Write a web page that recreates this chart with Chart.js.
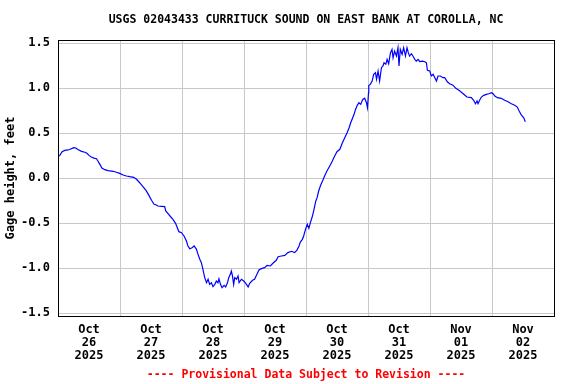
<!DOCTYPE html>
<html>
<head>
<meta charset="utf-8">
<title>USGS 02043433 Currituck Sound</title>
<script src="https://cdn.jsdelivr.net/npm/chart.js@4.4.1/dist/chart.umd.min.js"></script>
<style>
  html, body { margin: 0; padding: 0; background: #fff; }
  canvas { display: block; }
</style>
</head>
<body>
<canvas id="graphe" width="576" height="384"></canvas>
<script>
// Heures depuis le 26 oct 2025 00:00
var V_heures = [
  0.0, 0.7, 1.6, 2.6, 3.9, 4.5, 6.1, 6.9, 7.7, 9.1, 10.4, 11.2, 12.0, 12.9, 13.9, 14.9,
  15.5, 16.1, 17.0, 18.1, 19.4, 21.3, 22.6, 23.9, 25.2, 26.5, 27.8, 29.3, 30.4, 31.6, 32.9, 34.2,
  35.2, 36.2, 37.2, 38.1, 38.7, 40.0, 41.3, 41.7, 42.6, 43.6, 44.5, 45.5, 46.2, 46.8, 47.8, 48.8,
  49.7, 50.3, 51.0, 51.9, 52.7, 53.6, 54.2, 54.9, 55.5, 56.1, 56.8, 57.5, 58.1, 58.7, 59.4, 60.0,
  60.7, 61.3, 61.9, 62.3, 62.9, 63.5, 64.3, 64.9, 65.6, 66.1, 66.7, 67.1, 67.5, 68.0, 68.4, 69.1,
  69.7, 70.1, 71.0, 71.9, 72.7, 73.6, 74.2, 75.3, 76.1, 77.0, 77.8, 78.7, 80.0, 80.9, 82.2, 83.2,
  84.5, 85.2, 86.5, 87.8, 89.0, 90.4, 91.6, 92.5, 93.3, 93.8, 94.6, 95.1, 95.8, 96.5, 97.1, 97.7,
  98.5, 99.1, 99.8, 100.3, 100.9, 101.7, 102.4, 103.2, 104.1, 105.2, 106.2, 107.1, 108.0, 109.1, 110.1, 111.0,
  111.9, 112.7, 113.3, 114.0, 114.6, 115.2, 115.9, 116.5, 117.2, 117.8, 118.1, 118.7, 119.4, 119.8, 120.2, 120.3,
  120.9, 121.6, 122.2, 122.9, 123.3, 123.9, 124.5, 125.2, 125.8, 126.2, 126.9, 127.4, 128.0, 128.7, 129.3, 129.7,
  130.3, 131.0, 131.6, 132.0, 132.5, 133.2, 133.8, 134.5, 135.1, 135.6, 136.1, 136.8, 137.4, 138.1, 138.7, 139.4,
  140.0, 141.1, 142.0, 142.6, 143.0, 143.9, 144.5, 145.2, 146.5, 147.1, 148.0, 149.0, 149.7, 150.7, 151.6, 152.9,
  154.0, 155.2, 156.4, 157.4, 158.3, 160.0, 160.9, 161.6, 162.2, 162.6, 163.2, 163.9, 164.8, 165.8, 166.8, 167.8,
  168.4, 169.1, 170.1, 171.6, 172.9, 174.2, 175.5, 176.8, 177.8, 178.5, 179.4, 180.3, 180.9
];

// Hauteur d'eau (pieds)
var V_hauteur = [
  0.24, 0.255, 0.295, 0.31, 0.315, 0.32, 0.34, 0.337, 0.32, 0.30, 0.29, 0.278, 0.255, 0.237, 0.225, 0.218,
  0.19, 0.16, 0.115, 0.096, 0.085, 0.078, 0.067, 0.055, 0.037, 0.026, 0.018, 0.011, -0.011, -0.049, -0.093, -0.14,
  -0.19, -0.244, -0.289, -0.297, -0.308, -0.311, -0.315, -0.363, -0.393, -0.427, -0.456, -0.50, -0.549, -0.593, -0.604, -0.641,
  -0.697, -0.752, -0.782, -0.771, -0.752, -0.789, -0.845, -0.90, -0.938, -1.011, -1.104, -1.16, -1.122, -1.178, -1.16, -1.204,
  -1.178, -1.141, -1.16, -1.116, -1.178, -1.215, -1.189, -1.207, -1.16, -1.104, -1.067, -1.03, -1.078, -1.178, -1.104, -1.122,
  -1.085, -1.16, -1.122, -1.141, -1.167, -1.207, -1.167, -1.133, -1.122, -1.067, -1.019, -1.004, -0.993, -0.967, -0.974, -0.944,
  -0.911, -0.871, -0.863, -0.856, -0.826, -0.811, -0.826, -0.797, -0.752, -0.708, -0.678, -0.641, -0.567, -0.511, -0.556, -0.493,
  -0.419, -0.345, -0.252, -0.215, -0.141, -0.074, -0.03, 0.026, 0.081, 0.137, 0.192, 0.248, 0.296, 0.322, 0.396, 0.451,
  0.507, 0.562, 0.618, 0.667, 0.711, 0.767, 0.814, 0.84, 0.822, 0.867, 0.878, 0.89, 0.84, 0.784, 0.951, 1.03,
  1.044, 1.081, 1.156, 1.173, 1.10, 1.192, 1.081, 1.229, 1.248, 1.284, 1.267, 1.322, 1.273, 1.396, 1.433, 1.34,
  1.414, 1.359, 1.451, 1.248, 1.433, 1.378, 1.451, 1.359, 1.451, 1.396, 1.359, 1.385, 1.359, 1.322, 1.303, 1.322,
  1.296, 1.303, 1.296, 1.284, 1.20, 1.192, 1.137, 1.156, 1.081, 1.137, 1.137, 1.118, 1.118, 1.073, 1.051, 1.035,
  1.0, 0.978, 0.951, 0.926, 0.903, 0.896, 0.867, 0.829, 0.859, 0.829, 0.867, 0.903, 0.922, 0.933, 0.94, 0.951,
  0.94, 0.914, 0.896, 0.889, 0.867, 0.851, 0.829, 0.811, 0.792, 0.748, 0.703, 0.673, 0.629
];

// Etiquettes des jours (placées à midi)
var V_jours = [
  ['Oct', '26', '2025'], ['Oct', '27', '2025'], ['Oct', '28', '2025'], ['Oct', '29', '2025'],
  ['Oct', '30', '2025'], ['Oct', '31', '2025'], ['Nov', '01', '2025'], ['Nov', '02', '2025']
];

var V_ticks_y = [-1.5, -1.0, -0.5, 0.0, 0.5, 1.0, 1.5];

var S_titre = 'USGS 02043433 CURRITUCK SOUND ON EAST BANK AT COROLLA, NC';
var S_axe_y = 'Gage height, feet';
var S_pied = '---- Provisional Data Subject to Revision ----';

var S_police = '"DejaVu Sans Mono", "Liberation Mono", monospace';
var S_grille = '#c8c8c8';

Chart.defaults.color = '#000';
Chart.defaults.font.family = S_police;
Chart.defaults.font.size = 12;
Chart.defaults.font.weight = 'bold';

var V_points = [];
for (let I_index = 0; I_index < V_heures.length; I_index++) {
    V_points.push({x: V_heures[I_index], y: V_hauteur[I_index]});
}

// Cadre noir autour de la zone du graphe
var O_cadre = {
    id: 'cadre',
    afterDraw: function(chart){
        var a = chart.chartArea;
        var ctx = chart.ctx;
        ctx.save();
        ctx.strokeStyle = '#000';
        ctx.lineWidth = 1;
        ctx.strokeRect(Math.round(a.left) + 0.5, Math.round(a.top) + 0.5,
                       Math.round(a.right - a.left), Math.round(a.bottom - a.top));
        ctx.restore();
    }
};

var O_ctx = document.getElementById('graphe').getContext('2d');
var O_graphe = new Chart(O_ctx, {
    type: 'line',
    data: {
        datasets: [{
            label: S_axe_y,
            data: V_points,
            borderColor: '#0000ff',
            borderWidth: 1.2,
            pointRadius: 0,
            tension: 0,
            fill: false
        }]
    },
    options: {
        responsive: false,
        animation: false,
        layout: { padding: { left: 0, right: 22, top: 0, bottom: 0 } },
        plugins: {
            legend: { display: false },
            tooltip: { enabled: false },
            title: {
                display: true,
                text: S_titre,
                fullSize: false,
                color: '#000',
                font: { size: 11.5, weight: 'bold', lineHeight: '14px' },
                padding: { top: 13, bottom: 13 }
            },
            subtitle: {
                display: true,
                position: 'bottom',
                text: S_pied,
                fullSize: false,
                color: '#ff0000',
                font: { size: 11.5, weight: 'bold', lineHeight: '14px' },
                padding: { top: 1.2, bottom: 2 }
            }
        },
        scales: {
            x: {
                type: 'linear',
                min: 0,
                max: 192,
                afterBuildTicks: function(axis){
                    var V = [];
                    for (let h = 0; h <= 192; h += 12) { V.push({value: h}); }
                    axis.ticks = V;
                },
                afterFit: function(axis){ axis.height = 50.8; },
                border: { display: false },
                grid: {
                    drawTicks: false,
                    lineWidth: 1,
                    color: function(c){
                        return (c.tick && c.tick.value % 24 === 0) ? S_grille : 'rgba(0,0,0,0)';
                    }
                },
                ticks: {
                    autoSkip: false,
                    maxRotation: 0,
                    padding: 7,
                    font: { size: 12, weight: 'bold', lineHeight: '13px' },
                    callback: function(value){
                        if (value % 24 === 12) { return V_jours[(value - 12) / 24]; }
                        return '';
                    }
                }
            },
            y: {
                type: 'linear',
                min: -1.53,
                max: 1.537,
                afterBuildTicks: function(axis){
                    axis.ticks = V_ticks_y.map(function(v){ return {value: v}; });
                },
                afterFit: function(axis){ axis.width = 58; },
                border: { display: false },
                grid: { drawTicks: false, color: S_grille, lineWidth: 1 },
                ticks: {
                    padding: 8,
                    font: { size: 12, weight: 'bold' },
                    callback: function(value){ return Number(value).toFixed(1); }
                },
                title: {
                    display: true,
                    text: S_axe_y,
                    font: { size: 12, weight: 'bold', lineHeight: 1.2 },
                    padding: { top: 4, bottom: 0 }
                }
            }
        }
    },
    plugins: [O_cadre]
});
</script>
</body>
</html>
